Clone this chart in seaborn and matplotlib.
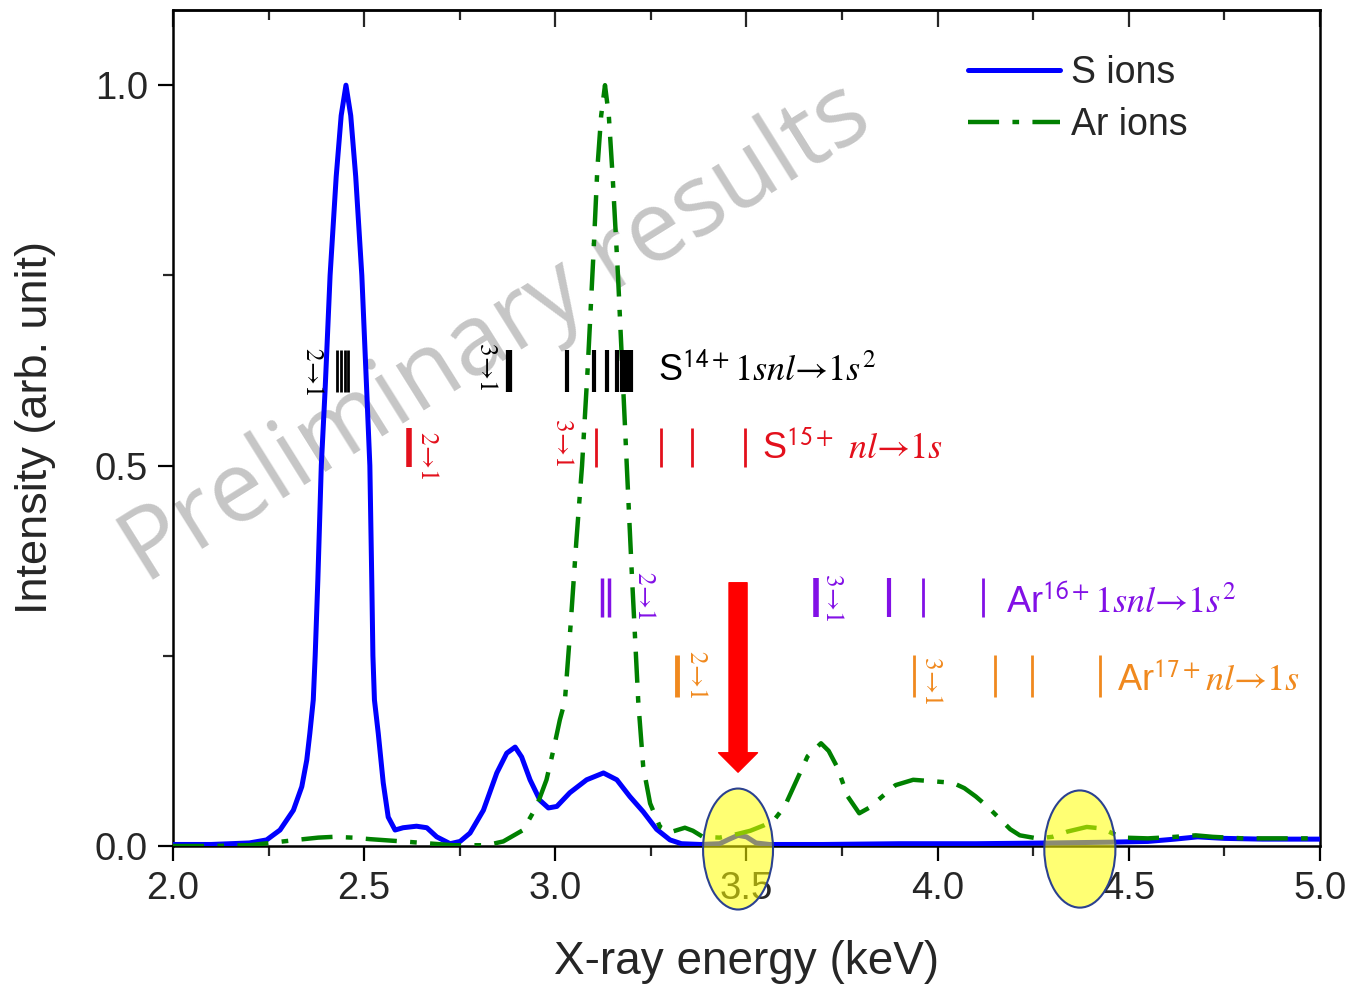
import matplotlib
matplotlib.use("Agg")
import matplotlib.pyplot as plt
import pandas as pd
import seaborn as sns
from matplotlib.patches import Ellipse, FancyArrowPatch
from matplotlib.ticker import MultipleLocator, FormatStrFormatter

# ---------------- data ----------------
s_energy = [2.00, 2.05, 2.10, 2.15, 2.20, 2.245, 2.28, 2.315, 2.337, 2.350, 2.358, 2.367,
            2.372, 2.379, 2.388, 2.398, 2.411, 2.427, 2.440, 2.4525, 2.465, 2.478, 2.494,
            2.505, 2.515, 2.520, 2.523, 2.527, 2.537, 2.550, 2.563, 2.581, 2.602, 2.637,
            2.664, 2.690, 2.725, 2.751, 2.777, 2.812, 2.847, 2.873, 2.895, 2.912, 2.934,
            2.960, 2.982, 3.004, 3.038, 3.082, 3.126, 3.161, 3.195, 3.230, 3.265, 3.300,
            3.330, 3.380, 3.430, 3.455, 3.478, 3.500, 3.525, 3.560, 3.700, 3.900, 4.100,
            4.300, 4.450, 4.550, 4.620, 4.680, 4.750, 4.850, 5.000]
s_intensity = [0.002, 0.002, 0.002, 0.003, 0.004, 0.008, 0.021, 0.047, 0.078, 0.113, 0.148, 0.192,
               0.25, 0.35, 0.50, 0.60, 0.75, 0.88, 0.96, 1.00, 0.96, 0.88, 0.75,
               0.62, 0.50, 0.35, 0.25, 0.192, 0.148, 0.083, 0.038, 0.021, 0.024, 0.026,
               0.024, 0.012, 0.003, 0.006, 0.017, 0.047, 0.096, 0.122, 0.130, 0.117, 0.087,
               0.060, 0.050, 0.052, 0.070, 0.087, 0.096, 0.087, 0.065, 0.045, 0.022, 0.008,
               0.003, 0.002, 0.003, 0.009, 0.014, 0.012, 0.004, 0.002, 0.002, 0.003, 0.003,
               0.004, 0.005, 0.006, 0.009, 0.012, 0.010, 0.009, 0.009]

ar_energy = [2.00, 2.10, 2.20, 2.254, 2.323, 2.38, 2.419, 2.47, 2.515, 2.60, 2.68, 2.733,
             2.82, 2.864, 2.916, 2.951, 2.977, 2.995, 3.012, 3.025, 3.04, 3.055, 3.07,
             3.085, 3.10, 3.11, 3.12, 3.13, 3.14, 3.15, 3.164, 3.176, 3.187, 3.20, 3.21, 3.217,
             3.230, 3.248, 3.274, 3.30, 3.339, 3.36, 3.386, 3.43, 3.47, 3.51, 3.545,
             3.572, 3.60, 3.62, 3.66, 3.695, 3.715, 3.737, 3.765, 3.795, 3.82, 3.855,
             3.89, 3.936, 3.99, 4.04, 4.07, 4.10, 4.13, 4.158, 4.19, 4.215, 4.26, 4.30,
             4.34, 4.39, 4.43, 4.46, 4.485, 4.55, 4.62, 4.675, 4.72, 4.80, 4.90, 5.00]
ar_intensity = [0.000, 0.000, 0.001, 0.004, 0.008, 0.011, 0.012, 0.011, 0.009, 0.006, 0.003, 0.001,
                0.001, 0.006, 0.021, 0.052, 0.087, 0.126, 0.166, 0.19, 0.29, 0.40, 0.50,
                0.63, 0.78, 0.89, 0.96, 1.00, 0.96, 0.88, 0.75, 0.62, 0.50, 0.36, 0.26, 0.19,
                0.104, 0.056, 0.025, 0.018, 0.024, 0.020, 0.012, 0.011, 0.015, 0.020, 0.027,
                0.034, 0.052, 0.074, 0.118, 0.135, 0.125, 0.104, 0.065, 0.043, 0.050, 0.065,
                0.080, 0.087, 0.085, 0.083, 0.076, 0.065, 0.052, 0.038, 0.022, 0.014, 0.010, 0.012,
                0.019, 0.025, 0.023, 0.016, 0.011, 0.010, 0.012, 0.014, 0.012, 0.010, 0.010, 0.010]

# transition-energy markers (keV)
s14_lines = [2.428, 2.439, 2.449, 2.458, 2.879, 3.031, 3.101, 3.135, 3.161, 3.174, 3.183, 3.190, 3.197]
s15_lines = [2.617, 3.107, 3.276, 3.357, 3.496]
ar16_lines = [3.122, 3.140, 3.682, 3.873, 3.962, 4.119]
ar17_lines = [3.318, 3.937, 4.149, 4.247, 4.425]

series_labels = ["S ions", "Ar ions"]
x_ticks = [2.0, 2.5, 3.0, 3.5, 4.0, 4.5, 5.0]
y_ticks = [0.0, 0.5, 1.0]
highlight_energies = [3.478, 4.372]
arrow_energy = 3.478

# ---------------- style ----------------
sns.set_style("ticks")
plt.rcParams["font.family"] = ["Liberation Sans", "DejaVu Sans"]
plt.rcParams["axes.linewidth"] = 1.8

fig = plt.figure(figsize=(13.48, 9.86), dpi=100)
ax = fig.add_axes([0.1283, 0.142, 0.8509, 0.848])

df_s = pd.DataFrame({"energy": s_energy, "intensity": s_intensity})
df_ar = pd.DataFrame({"energy": ar_energy, "intensity": ar_intensity})

sns.lineplot(data=df_s, x="energy", y="intensity", ax=ax, color="#0000ff", lw=3.6,
             label=series_labels[0], errorbar=None, zorder=4)
sns.lineplot(data=df_ar, x="energy", y="intensity", ax=ax, color="#008000", lw=3.2,
             linestyle=(0, (7, 3, 1.5, 3)), label=series_labels[1], errorbar=None, zorder=4)

ax.set_xlim(2.0, 5.0)
ax.set_ylim(0.0, 1.099)
ax.set_xticks(x_ticks)
ax.set_yticks(y_ticks)
ax.xaxis.set_minor_locator(MultipleLocator(0.25))
ax.yaxis.set_minor_locator(MultipleLocator(0.25))
ax.xaxis.set_major_formatter(FormatStrFormatter("%.1f"))
ax.yaxis.set_major_formatter(FormatStrFormatter("%.1f"))
ax.tick_params(axis="both", which="major", labelsize=27.5, width=1.6, length=11, direction="out",
               pad=7, color="black")
ax.tick_params(axis="both", which="minor", width=1.6, length=7, direction="out")
ax.spines["top"].set_visible(True)
ax.spines["right"].set_visible(True)
for sp in ax.spines.values():
    sp.set_linewidth(1.8)
    sp.set_color("black")

# top ticks pointing inward via secondary axis
top = ax.secondary_xaxis("top")
top.set_xticks(x_ticks)
top.xaxis.set_minor_locator(MultipleLocator(0.25))
top.tick_params(which="major", direction="in", length=12, width=1.6, labeltop=False)
top.tick_params(which="minor", direction="in", length=7, width=1.6)
top.spines["top"].set_linewidth(1.8)
ax.tick_params(axis="x", which="both", top=False)

ax.set_xlabel("X-ray energy (keV)", fontsize=33, labelpad=24)
ax.set_ylabel("Intensity (arb. unit)", fontsize=32.5, labelpad=28)

# legend
leg = ax.legend(loc="upper left", bbox_to_anchor=(0.693, 0.946), frameon=False, fontsize=27,
                handlelength=2.45, handletextpad=0.3, labelspacing=0.42, borderaxespad=0,
                borderpad=0)

# watermark
ax.text(0.282, 0.612, "Preliminary results", transform=ax.transAxes, rotation=32,
        rotation_mode="anchor", ha="center", va="center", fontsize=71,
        family="Open Sans", color="#c6c6c6", zorder=1)

# transition markers
def marks(xs, y0, y1, color, widths):
    for x, w in zip(xs, widths):
        ax.vlines(x, y0, y1, color=color, lw=w, zorder=5)

c_s14, c_s15, c_ar16, c_ar17 = "black", "#e3101c", "#8210e6", "#f0891e"
marks(s14_lines, 0.597, 0.652, c_s14, [2, 2, 2, 2, 4.5, 3, 3, 3, 3, 3, 3, 3, 3])
marks(s15_lines, 0.498, 0.549, c_s15, [4, 2, 2, 2, 2])
marks(ar16_lines, 0.301, 0.352, c_ar16, [2.5, 2.5, 4, 3, 2, 2])
marks(ar17_lines, 0.196, 0.251, c_ar17, [3.5, 2, 2, 2, 2])

small = dict(rotation=-90, ha="center", va="center", fontsize=18, math_fontfamily="stix", zorder=6)
lab21 = r"$2\!\rightarrow\!1$"
lab31 = r"$3\!\rightarrow\!1$"
ax.text(2.366, 0.624, lab21, color=c_s14, **small)
ax.text(2.821, 0.630, lab31, color=c_s14, **small)
ax.text(2.667, 0.514, lab21, color=c_s15, **small)
ax.text(3.020, 0.530, lab31, color=c_s15, **small)
ax.text(3.235, 0.329, lab21, color=c_ar16, **small)
ax.text(3.726, 0.327, lab31, color=c_ar16, **small)
ax.text(3.371, 0.225, lab21, color=c_ar17, **small)
ax.text(3.985, 0.218, lab31, color=c_ar17, **small)

big = dict(fontsize=26, ha="left", va="baseline", zorder=6, math_fontfamily="stix")
ax.text(3.269, 0.612, r"S$^{\mathsf{14+}}\mathit{1snl}→\mathit{1s}^{2}$", color=c_s14, **big)
ax.text(3.541, 0.510, r"S$^{\mathsf{15+}}$ $\mathit{nl}→\mathit{1s}$", color=c_s15, **big)
ax.text(4.179, 0.307, r"Ar$^{\mathsf{16+}}\mathit{1snl}→\mathit{1s}^{2}$", color=c_ar16, **big)
ax.text(4.469, 0.205, r"Ar$^{\mathsf{17+}}\mathit{nl}→\mathit{1s}$", color=c_ar17, **big)

# red arrow
arr = FancyArrowPatch((arrow_energy, 0.346), (arrow_energy, 0.097),
                      arrowstyle="simple,head_length=14,head_width=28,tail_width=13",
                      mutation_scale=1, color="#ff0000", shrinkA=0, shrinkB=0, zorder=7)
ax.add_patch(arr)

# highlight ellipses
for xc, (w, h) in zip(highlight_energies, [(0.183, 0.159), (0.186, 0.154)]):
    e = Ellipse((xc, -0.004), w, h, facecolor=(1, 1, 0, 0.55), edgecolor="#2b4190",
                lw=1.5, clip_on=False, zorder=10)
    ax.add_patch(e)

fig.savefig("out.png", dpi=100)
